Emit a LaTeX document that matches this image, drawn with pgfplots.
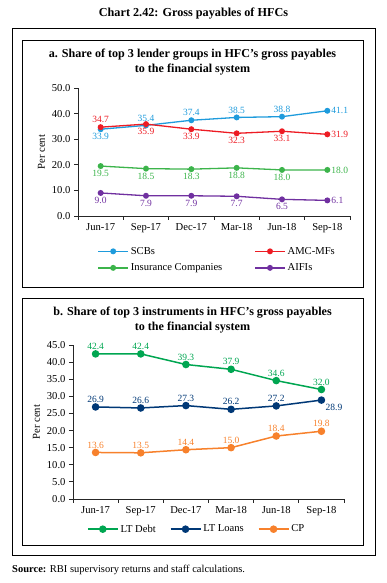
\documentclass[border=0pt]{standalone}
\usepackage{fontspec}
\setmainfont{Liberation Serif}
\usepackage{pgfplots}
\pgfplotsset{compat=1.18}
\definecolor{cSCB}{RGB}{30,155,220}
\definecolor{cAMC}{RGB}{237,28,36}
\definecolor{cINS}{RGB}{60,180,75}
\definecolor{cAIF}{RGB}{112,48,160}
\definecolor{cLTD}{RGB}{0,166,81}
\definecolor{cLTL}{RGB}{0,56,118}
\definecolor{cCP}{RGB}{247,129,44}
\pgfplotsset{
  hfc/.style={
    scale only axis, clip=false,
    axis lines*=left,
    axis line style={-, black!85, line width=0.8pt},
    tick align=outside, major tick length=4pt,
    tick style={black!85, line width=0.8pt},
    xmin=-0.5, xmax=5.5,
    xtick={-0.5,0.5,...,5.5}, x tick label as interval,
    xticklabels={Jun-17,Sep-17,Dec-17,Mar-18,Jun-18,Sep-18},
    tick label style={font=\fontsize{10.6}{12}\selectfont},
    /pgf/number format/assume math mode=true,
    yticklabel style={/pgf/number format/.cd,fixed,fixed zerofill,precision=1},
    ylabel={Per cent},
    ylabel style={font=\fontsize{10.6}{12}\selectfont},
    legend style={draw=none, fill=none, font=\fontsize{10.6}{12}\selectfont},
    legend cell align=left,
    legend image code/.code={\draw[mark repeat=2,mark phase=2] plot coordinates {(0pt,0pt) (15pt,0pt) (30pt,0pt)};},
    nodes near coords, point meta=explicit symbolic,
    visualization depends on={value \thisrow{a}\as\myanchor},
    every node near coord/.append style={anchor=\myanchor, inner sep=3.5pt, font=\fontsize{9.5}{11}\selectfont},
  }
}
\begin{document}
\begin{tikzpicture}[x=1pt,y=1pt]
\path[use as bounding box] (0,0) rectangle (387,583);
\draw[line width=1pt] (12,27) rectangle (375,554);
\draw[line width=0.9pt] (22,296) rectangle (363,543);
\draw[line width=0.9pt] (22,38) rectangle (363,285);
\node[font=\bfseries\fontsize{12.2}{14}\selectfont] at (193.5,569) {Chart 2.42: Gross payables of HFCs};
\node[font=\bfseries\fontsize{12.1}{14.5}\selectfont, align=center] at (192.5,521) {a. Share of top 3 lender groups in HFC's gross payables\\to the financial system};
\node[font=\bfseries\fontsize{12.1}{14.5}\selectfont, align=center] at (192.5,263) {b. Share of top 3 instruments in HFC's gross payables\\to the financial system};
\node[anchor=west, inner sep=0pt, font=\fontsize{10.5}{12}\selectfont] at (12,13) {\textbf{Source:} RBI supervisory returns and staff calculations.};

\begin{axis}[hfc,
  at={(78pt,367pt)}, anchor=south west, width=272pt, height=128pt,
  ymin=0, ymax=50, ytick={0,10,...,50},
  legend columns=2,
  legend style={at={(0.06,-0.21)}, anchor=north west,
    /tikz/every even column/.append style={column sep=30pt},
    row sep=4pt},
  every axis plot/.append style={line width=1.3pt, mark=*, mark size=2.3pt},
]
\addplot[color=cSCB] table[x=x,y=y,meta=l] {
x y l a
0 33.9 33.9 north
1 35.4 35.4 south
2 37.4 37.4 south
3 38.5 38.5 south
4 38.8 38.8 south
5 41.1 41.1 west
};
\addlegendentry{SCBs}
\addplot[color=cAMC] table[x=x,y=y,meta=l] {
x y l a
0 34.7 34.7 south
1 35.9 35.9 north
2 33.9 33.9 north
3 32.3 32.3 north
4 33.1 33.1 north
5 31.9 31.9 west
};
\addlegendentry{AMC-MFs}
\addplot[color=cINS] table[x=x,y=y,meta=l] {
x y l a
0 19.5 19.5 north
1 18.5 18.5 north
2 18.3 18.3 north
3 18.8 18.8 north
4 18.0 18.0 north
5 18.0 18.0 west
};
\addlegendentry{Insurance Companies}
\addplot[color=cAIF] table[x=x,y=y,meta=l] {
x y l a
0 9.0 9.0 north
1 7.9 7.9 north
2 7.9 7.9 north
3 7.7 7.7 north
4 6.5 6.5 north
5 6.1 6.1 west
};
\addlegendentry{AIFIs}
\end{axis}

\begin{axis}[hfc,
  at={(73pt,84pt)}, anchor=south west, width=271pt, height=154pt,
  ymin=0, ymax=45, ytick={0,5,...,45},
  legend columns=3,
  legend style={at={(0.04,-0.14)}, anchor=north west,
    /tikz/every even column/.append style={column sep=12pt}},
  every axis plot/.append style={line width=1.5pt, mark=*, mark size=3pt},
]
\addplot[color=cLTD] table[x=x,y=y,meta=l] {
x y l a
0 42.4 42.4 south
1 42.4 42.4 south
2 39.3 39.3 south
3 37.9 37.9 south
4 34.6 34.6 south
5 32.0 32.0 south
};
\addlegendentry{LT Debt}
\addplot[color=cLTL] table[x=x,y=y,meta=l] {
x y l a
0 26.9 26.9 south
1 26.6 26.6 south
2 27.3 27.3 south
3 26.2 26.2 south
4 27.2 27.2 south
5 28.9 28.9 {north west}
};
\addlegendentry{LT Loans}
\addplot[color=cCP] table[x=x,y=y,meta=l] {
x y l a
0 13.6 13.6 south
1 13.5 13.5 south
2 14.4 14.4 south
3 15.0 15.0 south
4 18.4 18.4 south
5 19.8 19.8 south
};
\addlegendentry{CP}
\end{axis}
\end{tikzpicture}
\end{document}
